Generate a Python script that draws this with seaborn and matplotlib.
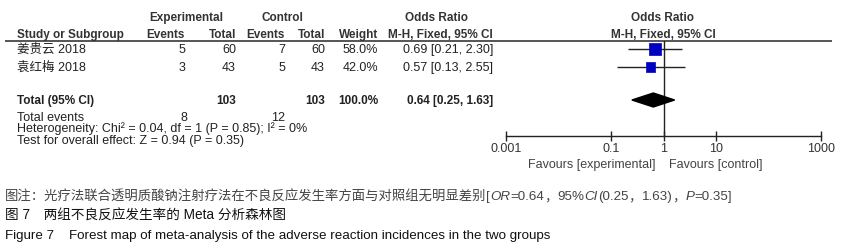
import matplotlib
matplotlib.use("Agg")
import matplotlib.pyplot as plt
import seaborn as sns
import numpy as np
import pandas as pd

sns.set_theme(style="white")
plt.rcParams['font.family'] = ['Liberation Sans', 'Noto Sans CJK SC', 'DejaVu Sans']

# ---- data ----
studies = ["姜贵云 2018", "袁红梅 2018"]
exp_events = [5, 3]
exp_total = [60, 43]
ctl_events = [7, 5]
ctl_total = [60, 43]
weights = [58.0, 42.0]
odds = [0.69, 0.57]
ci_low = [0.21, 0.13]
ci_high = [2.30, 2.55]
total_exp, total_ctl = 103, 103
total_events_exp, total_events_ctl = 8, 12
pooled_or, pooled_lo, pooled_hi = 0.64, 0.25, 1.63
xticks = [0.001, 0.1, 1, 10, 1000]
xtick_labels = ["0.001", "0.1", "1", "10", "1000"]
heterogeneity = "Heterogeneity: Chi² = 0.04, df = 1 (P = 0.85); I² = 0%"
overall = "Test for overall effect: Z = 0.94 (P = 0.35)"
# caption 1 as (text, kind) segments: c = CJK, a = latin, i = latin italic
cap1 = [("图注：光疗法联合透明质酸钠注射疗法在不良反应发生率方面与对照组无明显差别", "c"),
        ("[", "a"), ("OR", "i"), ("=0.64", "a"), ("，", "c"), ("95%", "a"), ("CI", "i"),
        ("(0.25", "a"), ("，", "c"), ("1.63)", "a"), ("，", "c"), ("P", "i"), ("=0.35]", "a")]
cap2 = "图 7　两组不良反应发生率的 Meta 分析森林图"
cap3 = "Figure 7    Forest map of meta-analysis of the adverse reaction incidences in the two groups"

W, H = 849, 253
fig = plt.figure(figsize=(W / 100, H / 100), dpi=100)
ax = fig.add_axes([0, 0, 1, 1])
ax.set_xlim(0, W)
ax.set_ylim(H, 0)
ax.axis("off")

tc = "#222222"
hc = "#333333"
fs = 9
fsb = 8.5
row_y = [50, 68]
tot_y = 101

def T(x, y, s, ha="left", bold=False, color=tc, size=None, **kw):
    if size is None:
        size = fsb if bold else fs
    kw.setdefault("fontweight", "bold" if bold else "normal")
    return ax.text(x, y, s, ha=ha, va="center", fontsize=size, color=color, **kw)

# headers
T(186, 18, "Experimental", ha="center", bold=True, color=hc)
T(282, 18, "Control", ha="center", bold=True, color=hc)
T(437, 18, "Odds Ratio", ha="center", bold=True, color=hc)
T(663, 18, "Odds Ratio", ha="center", bold=True, color=hc)
T(17, 35, "Study or Subgroup", bold=True, color=hc)
T(185, 35, "Events", ha="right", bold=True, color=hc)
T(236, 35, "Total", ha="right", bold=True, color=hc)
T(285, 35, "Events", ha="right", bold=True, color=hc)
T(325, 35, "Total", ha="right", bold=True, color=hc)
T(378, 35, "Weight", ha="right", bold=True, color=hc)
T(493, 35, "M-H, Fixed, 95% CI", ha="right", bold=True, color=hc)
T(663, 35, "M-H, Fixed, 95% CI", ha="center", bold=True, color=hc)
ax.plot([5, 832], [42, 42], color="#555555", lw=1.4, solid_capstyle="butt")

for i, y in enumerate(row_y):
    T(17, y, studies[i])
    T(185, y, str(exp_events[i]), ha="right")
    T(236, y, str(exp_total[i]), ha="right")
    T(285, y, str(ctl_events[i]), ha="right")
    T(325, y, str(ctl_total[i]), ha="right")
    T(378, y, f"{weights[i]:.1f}%", ha="right")
    T(493, y, f"{odds[i]:.2f} [{ci_low[i]:.2f}, {ci_high[i]:.2f}]", ha="right")

T(17, tot_y, "Total (95% CI)", bold=True)
T(236, tot_y, str(total_exp), ha="right", bold=True)
T(325, tot_y, str(total_ctl), ha="right", bold=True)
T(378, tot_y, f"{sum(weights):.1f}%", ha="right", bold=True)
T(493, tot_y, f"{pooled_or:.2f} [{pooled_lo:.2f}, {pooled_hi:.2f}]", ha="right", bold=True)
T(17, 118, "Total events")
T(187, 118, str(total_events_exp), ha="right")
T(285, 118, str(total_events_ctl), ha="right")
T(17, 129, heterogeneity)
T(17, 141, overall)

# forest axes
x0, x1 = 506, 821
ytop, ybot = 42, 137
fax = fig.add_axes([x0 / W, 1 - ybot / H, (x1 - x0) / W, (ybot - ytop) / H])
fax.set_xscale("log")
fax.set_xlim(0.001, 1000)
fax.set_ylim(ybot, ytop)
fax.patch.set_alpha(0)
for s in ["top", "left", "right"]:
    fax.spines[s].set_visible(False)
fax.spines["bottom"].set_color("#222222")
fax.spines["bottom"].set_linewidth(1.0)
fax.set_yticks([])
fax.set_xticks(xticks)
fax.set_xticklabels(xtick_labels)
fax.xaxis.set_minor_locator(matplotlib.ticker.NullLocator())
fax.tick_params(axis="x", direction="inout", length=7, width=1.0, color="#222222",
                labelsize=fs, labelcolor="#333333", pad=1, bottom=True)
fax.axvline(1, color="#222222", lw=1.0)

df = pd.DataFrame({"OR": odds, "y": row_y, "w": weights, "lo": ci_low, "hi": ci_high})
fax.hlines(df["y"], df["lo"], df["hi"], color="#222222", lw=1.0, zorder=2)
sns.scatterplot(data=df, x="OR", y="y", size="w", sizes=(42, 74), marker="s",
                color="#0000c0", edgecolor="#0000c0", linewidth=0.5, legend=False,
                ax=fax, zorder=3)
fax.fill([pooled_lo, pooled_or, pooled_hi, pooled_or],
         [tot_y, tot_y - 7, tot_y, tot_y + 7], color="black", zorder=3)
fax.set_xlabel("")
fax.set_ylabel("")

T(656, 165, "Favours [experimental]", ha="right", color="#444444")
T(669, 165, "Favours [control]", ha="left", color="#444444")

# captions
renderer = fig.canvas.get_renderer()
cx = 5
for seg, kind in cap1:
    t = T(cx, 197, seg, color="#444444", size=9.6,
          style="italic" if kind == "i" else "normal")
    cx += t.get_window_extent(renderer).width
T(5, 216, cap2, color="#111111", size=9.8, fontweight="medium")
T(5, 236, cap3, color="#111111", size=9.6)

fig.savefig("out.png", dpi=100)
